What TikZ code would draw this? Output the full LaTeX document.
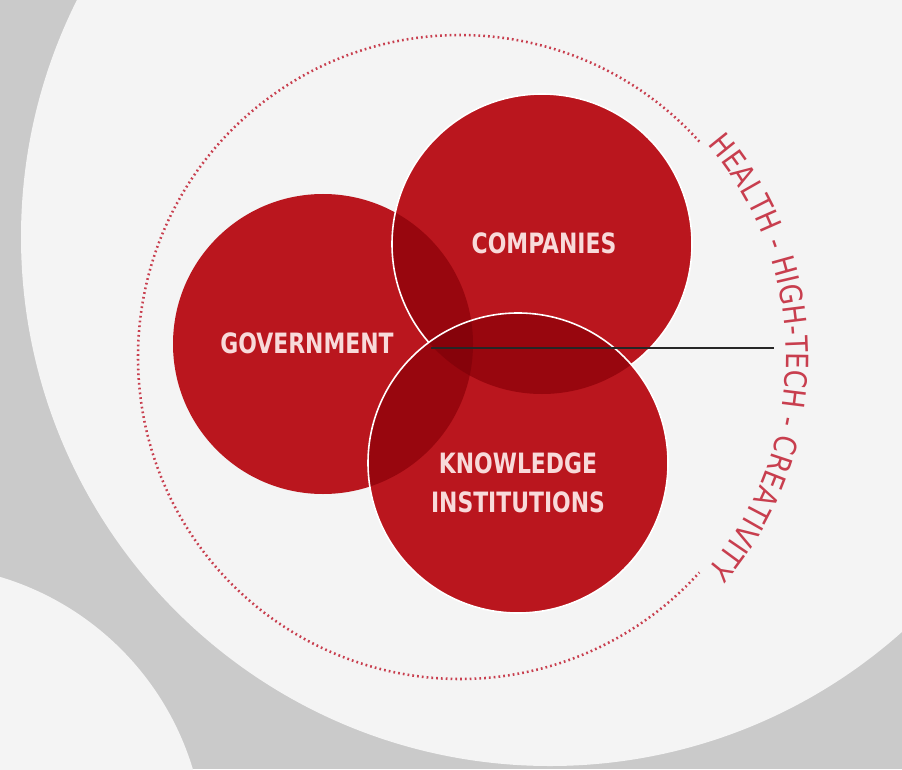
\documentclass[tikz,border=0pt]{standalone}
\usepackage{fontspec}
\usepackage{xcolor}
\usetikzlibrary{decorations.text}
\newfontfamily\labfont[FakeStretch=0.87]{DejaVu Sans Condensed}
\newfontfamily\ringfont[FakeStretch=0.95]{DejaVu Sans Condensed}
\definecolor{bggray}{RGB}{202,202,202}
\definecolor{paper}{RGB}{244,244,244}
\definecolor{vred}{RGB}{186,22,30}
\definecolor{vdark}{RGB}{152,6,14}
\definecolor{vdarker}{RGB}{134,2,10}
\definecolor{ringred}{RGB}{200,62,78}
\definecolor{labpink}{RGB}{248,218,218}

\begin{document}
\begin{tikzpicture}[x=.75pt,y=.75pt,
  lab/.style={text=labpink,font=\labfont\bfseries\fontsize{21}{29}\selectfont,align=center,inner sep=0pt},
  rim/.style={draw=white,line width=1.2pt},
  ringdots/.style={draw=ringred,line width=1.9pt,dash pattern=on 1.3pt off 2.3pt}]
\useasboundingbox (0,0) rectangle (902,769);
\fill[bggray] (0,0) rectangle (902,769);
\begin{scope}
\clip (0,0) rectangle (902,769);
\fill[paper] (550,532) circle[radius=529];
\fill[paper] (-82,-83) circle[radius=287];
\end{scope}

\coordinate (ring) at (460,412);
\coordinate (gov) at (323,425);
\coordinate (comp) at (542,525);
\coordinate (know) at (518,306);

% dotted ring and its words
\draw[ringdots] ([shift={(42:322)}]ring) arc[start angle=42,end angle=318,radius=322];
\path[decorate,decoration={text along path,text align=center,text color=ringred,raise=3pt,
  text={|\ringfont\fontsize{23}{23}\selectfont|HEALTH - HIGH-TECH - CREATIVITY}}]
  ([shift={(40:322)}]ring) arc[start angle=40,end angle=-40,radius=322];

% government
\fill[vred] (gov) circle[radius=150];
% companies
\fill[vred] (comp) circle[radius=150];
\begin{scope}
\clip (gov) circle[radius=150];
\fill[vdark] (comp) circle[radius=150];
\end{scope}
\draw[rim] (comp) circle[radius=150];
% knowledge institutions
\fill[vred] (know) circle[radius=150];
\begin{scope}
\clip (gov) circle[radius=150];
\fill[vdark] (know) circle[radius=150];
\end{scope}
\begin{scope}
\clip (comp) circle[radius=150];
\fill[vdark] (know) circle[radius=150];
\clip (gov) circle[radius=150];
\fill[vdarker] (know) circle[radius=150];
\end{scope}
\draw[rim] (know) circle[radius=150];

\coordinate (hub) at (431,421);
\coordinate (tip) at (774,421);
\draw[line width=1.1pt,black!85] (hub) -- (tip);

\node[lab] (govlab) at (307,426) {GOVERNMENT};
\node[lab] (complab) at (544,526) {COMPANIES};
\node[lab] (knowlab) at (518,286) {KNOWLEDGE\\INSTITUTIONS};
\end{tikzpicture}
\end{document}
